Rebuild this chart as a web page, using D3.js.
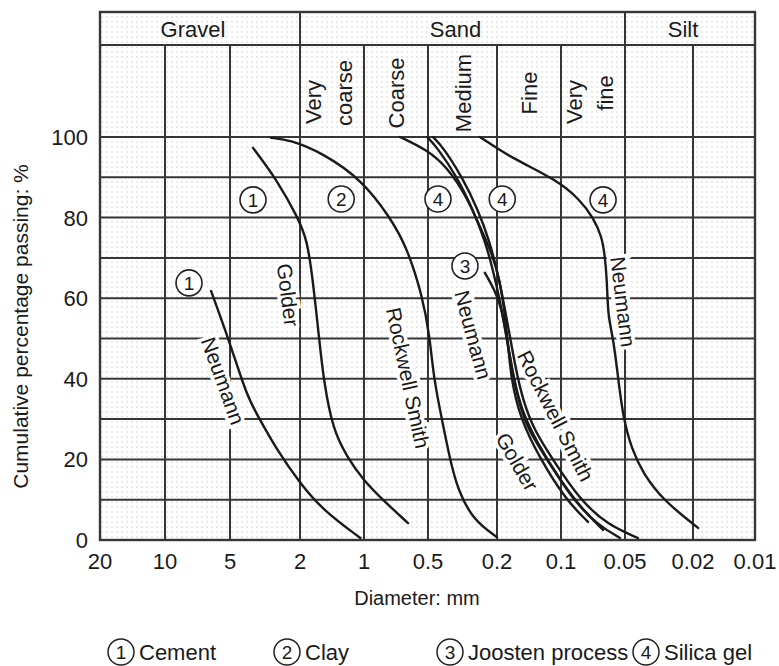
<!DOCTYPE html>
<html>
<head>
<meta charset="utf-8">
<script src="https://cdn.jsdelivr.net/npm/d3@7"></script>
<style>
  body { margin: 0; background: #fff; }
  text { font-family: "Liberation Sans", Arial, sans-serif; fill: #1a1a1a; }
</style>
</head>
<body>
<div id="chart"></div>
<script>
// axis values
const diameters = [20, 10, 5, 2, 1, 0.5, 0.2, 0.1, 0.05, 0.02, 0.01];
const diameterLabels = ["20", "10", "5", "2", "1", "0.5", "0.2", "0.1", "0.05", "0.02", "0.01"];
const percentGrid = d3.range(0, 101, 10);
const percentTicks = [0, 20, 40, 60, 80, 100];

// soil classes (header)
const mainClassNames = ["Gravel", "Sand", "Silt"];
const mainClassBounds = [[20, 2], [2, 0.05], [0.05, 0.01]];
const sandClassNames = [["Very", "coarse"], ["Coarse"], ["Medium"], ["Fine"], ["Very", "fine"]];
const sandClassBounds = [[2, 1], [1, 0.5], [0.5, 0.2], [0.2, 0.1], [0.1, 0.05]];

// curves: [diameter mm, cumulative % passing]
const cementNeumann = [[6.12, 61.8], [5, 48.9], [4.0, 35.5], [3.37, 29.8], [2.7, 22.3], [2, 14.1], [1.56, 7.4], [1.04, 0.5]];
const cementGolder = [[3.7, 97.3], [2.7, 89.3], [2.05, 79.9], [1.85, 74.4], [1.74, 64.5], [1.63, 50.6], [1.55, 39.7], [1.4, 27.3], [1.2, 20.6], [1.01, 14.9], [0.814, 9.9], [0.621, 4.2]];
const clayRockwell = [[2.92, 99.8], [2.28, 99.3], [1.56, 96.0], [1.02, 89.3], [0.755, 80.1], [0.628, 72.7], [0.53, 60.3], [0.49, 50.9], [0.462, 39.7], [0.415, 29.8], [0.373, 19.9], [0.336, 12.4], [0.275, 5.0], [0.2, 0.7]];
const silicaGolder = [[0.677, 100], [0.505, 96.8], [0.389, 92.6], [0.298, 85.1], [0.251, 77.7], [0.214, 71.2], [0.194, 64.5], [0.185, 57.1], [0.178, 49.6], [0.172, 40.2], [0.156, 30.3], [0.126, 20.3], [0.0947, 9.9], [0.0746, 4.5]];
const silicaMedium = [[0.505, 100], [0.444, 97.5], [0.34, 90.1], [0.275, 81.9], [0.235, 74.4], [0.211, 67.0], [0.194, 59.6], [0.183, 52.1], [0.17, 42.2], [0.159, 34.7], [0.143, 27.3], [0.116, 19.9], [0.0878, 9.9], [0.067, 3.7], [0.0528, 0.5]];
const silicaRockwell = [[0.468, 100], [0.41, 97.5], [0.318, 90.1], [0.257, 81.9], [0.222, 74.4], [0.2, 67.0], [0.187, 59.6], [0.176, 52.1], [0.163, 42.2], [0.151, 34.7], [0.134, 27.3], [0.109, 19.9], [0.0814, 9.9], [0.0601, 3.7], [0.042, 0.5]];
const joostenNeumann = [[0.235, 66.3], [0.206, 62.0], [0.189, 57.1], [0.179, 49.6], [0.168, 40.9], [0.154, 32.3], [0.128, 23.6], [0.101, 14.9], [0.0788, 7.4], [0.0634, 2.5]];
const silicaNeumann = [[0.251, 100], [0.174, 95], [0.104, 89.3], [0.0814, 84.4], [0.0707, 80.1], [0.0641, 75.2], [0.0621, 70.2], [0.0608, 64.5], [0.0601, 55.3], [0.0569, 50.4], [0.0539, 40.4], [0.0511, 30.5], [0.0455, 22.3], [0.0392, 16.6], [0.03, 9.9], [0.0189, 3.0]];
const curves = [cementNeumann, cementGolder, clayRockwell, silicaGolder, silicaMedium, silicaRockwell, joostenNeumann, silicaNeumann];

// curve labels: text, and [diameter, percent, angle]
const curveLabelText = ["Golder", "Neumann", "Rockwell Smith", "Neumann", "Rockwell Smith", "Golder", "Neumann"];
const curveLabelPos = [[2.34, 60.8, 83], [5.39, 39.5, 70], [0.621, 40.2, 78], [0.275, 50.9, 75], [0.106, 30.8, 63], [0.161, 19.4, 60], [0.0511, 59.1, 83]];

// numbered markers: number, and [diameter, percent]
const markerNums = ["1", "2", "4", "4", "4", "1", "3"];
const markerPos = [[3.7, 84.4], [1.28, 84.6], [0.438, 84.6], [0.189, 84.6], [0.0634, 84.4], [7.74, 63.8], [0.306, 68.0]];

const legendNums = ["1", "2", "3", "4"];
const legendNames = ["Cement", "Clay", "Joosten process", "Silica gel"];

const width = 779, height = 666;
const margin = { left: 100, right: 24, top: 137, bottom: 126 };
const headerTop = 12, headerMid = 45;
// tick spacing on the chart paper (offsets from the left edge)
const tickOffsets = [0, 65, 130, 200, 264, 328, 397, 461, 525, 593, 655];

const svg = d3.select("#chart").append("svg")
  .attr("width", width)
  .attr("height", height);

const x = d3.scaleLog()
  .domain(diameters)
  .range(tickOffsets.map(o => margin.left + o));

const y = d3.scaleLinear()
  .domain([0, 100])
  .range([height - margin.bottom, margin.top]);

const x0 = x(20), x1 = x(0.01), yBot = y(0), yTop = y(100);

// stippled paper
const defs = svg.append("defs");
defs.append("pattern")
  .attr("id", "dots")
  .attr("width", 5).attr("height", 5)
  .attr("patternUnits", "userSpaceOnUse")
  .append("circle")
  .attr("cx", 2).attr("cy", 2).attr("r", 0.8)
  .attr("fill", "#d0d0d0");

svg.append("rect")
  .attr("x", x0).attr("y", headerTop)
  .attr("width", x1 - x0).attr("height", yBot - headerTop)
  .attr("fill", "url(#dots)");

const grid = svg.append("g").attr("stroke", "#363636").attr("stroke-width", 2);

grid.selectAll(".hgrid")
  .data(percentGrid)
  .enter().append("line")
  .attr("x1", x0).attr("x2", x1)
  .attr("y1", d => y(d)).attr("y2", d => y(d));

grid.selectAll(".vgrid")
  .data(diameters)
  .enter().append("line")
  .attr("x1", d => x(d)).attr("x2", d => x(d))
  .attr("y1", headerMid).attr("y2", yBot);

// header frame
grid.append("line").attr("x1", x0).attr("x2", x1).attr("y1", headerTop).attr("y2", headerTop);
grid.append("line").attr("x1", x0).attr("x2", x1).attr("y1", headerMid).attr("y2", headerMid);
grid.selectAll(".hdiv")
  .data([20, 2, 0.05, 0.01])
  .enter().append("line")
  .attr("x1", d => x(d)).attr("x2", d => x(d))
  .attr("y1", headerTop).attr("y2", headerMid);
grid.append("rect")
  .attr("x", x0).attr("y", headerTop)
  .attr("width", x1 - x0).attr("height", yBot - headerTop)
  .attr("fill", "none").attr("stroke-width", 2.4);

svg.selectAll(".mainClass")
  .data(mainClassNames)
  .enter().append("text")
  .attr("x", (d, i) => (x(mainClassBounds[i][0]) + x(mainClassBounds[i][1])) / 2 - 7)
  .attr("y", 37)
  .attr("text-anchor", "middle")
  .attr("font-size", 22)
  .text(d => d);

const subCol = svg.selectAll(".subClass")
  .data(sandClassNames)
  .enter().append("g")
  .attr("transform", (d, i) => {
    const cx = (x(sandClassBounds[i][0]) + x(sandClassBounds[i][1])) / 2;
    return `translate(${cx},93) rotate(-90)`;
  });

subCol.selectAll("text")
  .data(d => d.map((t, j) => ({ t, j, n: d.length })))
  .enter().append("text")
  .attr("text-anchor", "middle")
  .attr("font-size", 22)
  .attr("x", d => (d.n === 2 && d.j === 0 ? -9 : 0))
  .attr("y", d => (d.n === 1 ? 8 : d.j === 0 ? -11 : 20))
  .text(d => d.t);

// curve labels with a paper-coloured halo that breaks the grid
svg.selectAll(".curveLabel")
  .data(curveLabelText)
  .enter().append("text")
  .attr("transform", (d, i) => `translate(${x(curveLabelPos[i][0])},${y(curveLabelPos[i][1])}) rotate(${curveLabelPos[i][2]})`)
  .attr("text-anchor", "middle")
  .attr("dy", "0.35em")
  .attr("font-size", 21)
  .attr("stroke", "#fff")
  .attr("stroke-width", 7)
  .attr("paint-order", "stroke")
  .text(d => d);

const line = d3.line()
  .x(d => x(d[0]))
  .y(d => y(d[1]))
  .curve(d3.curveBasis);

svg.selectAll(".curve")
  .data(curves)
  .enter().append("path")
  .attr("d", line)
  .attr("fill", "none")
  .attr("stroke", "#1a1a1a")
  .attr("stroke-width", 2.4)
  .attr("stroke-linecap", "round");

const markers = svg.selectAll(".marker")
  .data(markerNums)
  .enter().append("g")
  .attr("transform", (d, i) => `translate(${x(markerPos[i][0])},${y(markerPos[i][1])})`);

markers.append("circle")
  .attr("r", 13)
  .attr("fill", "#fff")
  .attr("stroke", "#222")
  .attr("stroke-width", 1.6);

markers.append("text")
  .attr("text-anchor", "middle")
  .attr("dy", "0.36em")
  .attr("font-size", 19)
  .text(d => d);

// axes labels
svg.selectAll(".xtick")
  .data(diameters)
  .enter().append("text")
  .attr("x", d => x(d))
  .attr("y", yBot + 29)
  .attr("text-anchor", "middle")
  .attr("font-size", 22)
  .text((d, i) => diameterLabels[i]);

svg.selectAll(".ytick")
  .data(percentTicks)
  .enter().append("text")
  .attr("x", x0 - 12)
  .attr("y", d => y(d))
  .attr("dy", "0.36em")
  .attr("text-anchor", "end")
  .attr("font-size", 22)
  .text(d => d);

svg.append("text")
  .attr("x", 417)
  .attr("y", 605)
  .attr("text-anchor", "middle")
  .attr("font-size", 20)
  .text("Diameter: mm");

svg.append("text")
  .attr("transform", `translate(28,${(yTop + yBot) / 2 - 12}) rotate(-90)`)
  .attr("text-anchor", "middle")
  .attr("font-size", 21)
  .text("Cumulative percentage passing: %");

// legend
const legendX = [121, 287, 450, 646];
const legend = svg.selectAll(".legend")
  .data(legendNames)
  .enter().append("g")
  .attr("transform", (d, i) => `translate(${legendX[i]},652)`);

legend.append("circle")
  .attr("r", 13)
  .attr("fill", "#fff")
  .attr("stroke", "#222")
  .attr("stroke-width", 1.5);

legend.append("text")
  .attr("text-anchor", "middle")
  .attr("dy", "0.36em")
  .attr("font-size", 19)
  .text((d, i) => legendNums[i]);

legend.append("text")
  .attr("x", 18)
  .attr("dy", "0.36em")
  .attr("font-size", 22)
  .text(d => d);
</script>
</body>
</html>
